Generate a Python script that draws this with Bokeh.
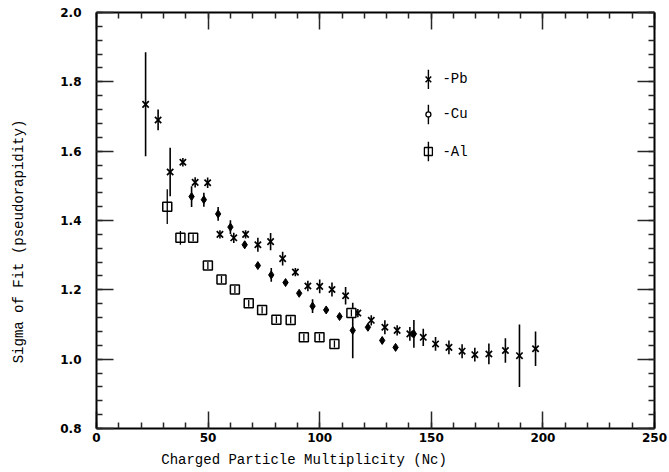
from bokeh.plotting import figure
from bokeh.models import FixedTicker, PrintfTickFormatter, ColumnDataSource, LinearAxis
from bokeh.core.properties import value
from bokeh.embed import file_html
from bokeh.resources import INLINE

# ---- data ----
pb_x = [22.0, 27.6, 33.0, 38.7, 44.2, 49.8, 55.3, 61.5, 66.8, 72.3, 78.0, 83.4, 89.1, 94.7,
        100.0, 105.5, 111.6, 117.1, 123.1, 129.2, 134.7, 140.4, 146.4, 151.9, 157.9, 163.8,
        169.5, 175.8, 183.2, 189.5, 196.7]
pb_y = [1.735, 1.69, 1.54, 1.568, 1.51, 1.509, 1.36, 1.35, 1.36, 1.33, 1.339, 1.29, 1.251, 1.211,
        1.21, 1.201, 1.183, 1.133, 1.112, 1.092, 1.083, 1.073, 1.063, 1.044, 1.034, 1.023,
        1.013, 1.015, 1.025, 1.01, 1.03]
pb_err = [0.15, 0.03, 0.07, 0.012, 0.015, 0.015, 0.012, 0.015, 0.012, 0.02, 0.025, 0.02, 0.012, 0.015,
          0.02, 0.02, 0.025, 0.012, 0.015, 0.02, 0.015, 0.02, 0.025, 0.02, 0.02, 0.02,
          0.02, 0.03, 0.035, 0.09, 0.05]

cu_x = [42.6, 48.1, 54.5, 60.0, 66.4, 72.3, 78.3, 84.7, 90.8, 96.8, 102.9, 108.9, 114.8,
        121.6, 128.0, 134.0, 142.2]
cu_y = [1.469, 1.46, 1.419, 1.381, 1.33, 1.27, 1.243, 1.221, 1.19, 1.153, 1.142, 1.123, 1.083,
        1.092, 1.054, 1.034, 1.073]
cu_err = [0.03, 0.02, 0.02, 0.02, 0.01, 0.005, 0.02, 0.005, 0.005, 0.02, 0.005, 0.005, 0.08,
          0.01, 0.01, 0.005, 0.04]

al_x = [31.7, 37.6, 43.3, 49.9, 56.0, 62.0, 68.2, 74.2, 80.6, 87.0, 92.9, 99.9, 106.6, 114.2]
al_y = [1.44, 1.35, 1.35, 1.27, 1.23, 1.201, 1.161, 1.142, 1.114, 1.113, 1.063, 1.063, 1.044, 1.133]
al_err = [0.05, 0.02, 0.01, 0.01, 0.01, 0.01, 0.01, 0.01, 0.01, 0.01, 0.01, 0.01, 0.01, 0.01]

x_major = [0, 50, 100, 150, 200, 250]
x_minor = list(range(0, 251, 10))
y_major = [0.8, 1.0, 1.2, 1.4, 1.6, 1.8, 2.0]
y_minor = [round(0.8 + 0.04 * i, 2) for i in range(31)]

legend_labels = ["-Pb", "-Cu", "-Al"]
legend_x = 148.7
legend_text_x = 155.0
legend_y = [1.807, 1.706, 1.599]
legend_err = 0.028

NB = "\u00a0"
x_label = "Charged Particle Multiplicity (Nc)" + NB * 17
y_label = "Sigma of Fit (pseudorapidity)" + NB * 5

MONO = "Liberation Mono"
TICKF = "DejaVu Sans"
TICK_COLOR = "#262626"

# ---- figure ----
p = figure(width=669, height=472, x_range=(0, 250), y_range=(0.8, 2.0),
           output_backend="svg", toolbar_location=None,
           min_border_left=96, min_border_right=15, min_border_top=12, min_border_bottom=44)
p.grid.visible = False


def style_axis(ax, ticks, minor, labels=True):
    ax.ticker = FixedTicker(ticks=ticks, minor_ticks=minor)
    ax.axis_line_color = "black"
    ax.axis_line_width = 2
    ax.major_tick_in = 17
    ax.major_tick_out = 0
    ax.minor_tick_in = 6
    ax.minor_tick_out = 0
    ax.major_tick_line_color = TICK_COLOR
    ax.minor_tick_line_color = TICK_COLOR
    ax.major_tick_line_width = 1.5
    ax.minor_tick_line_width = 1.5
    if labels:
        ax.major_label_text_font = TICKF
        ax.major_label_text_font_size = "12px"
        ax.major_label_text_font_style = "bold"
        ax.major_label_text_color = "black"
        ax.axis_label_text_font = MONO
        ax.axis_label_text_font_size = "14px"
        ax.axis_label_text_font_style = "normal"
        ax.axis_label_text_color = "black"
    else:
        ax.major_label_text_font_size = "0px"
        ax.major_label_text_alpha = 0


style_axis(p.xaxis[0], x_major, x_minor)
style_axis(p.yaxis[0], y_major, y_minor)
p.yaxis[0].formatter = PrintfTickFormatter(format="%.1f")
p.xaxis[0].major_label_standoff = 4
p.yaxis[0].major_label_standoff = 15
p.xaxis[0].axis_label = x_label
p.xaxis[0].axis_label_standoff = 7
p.yaxis[0].axis_label = y_label
p.yaxis[0].axis_label_standoff = 30

top = LinearAxis()
style_axis(top, x_major, x_minor, labels=False)
p.add_layout(top, "above")
right = LinearAxis()
style_axis(right, y_major, y_minor, labels=False)
p.add_layout(right, "right")


# ---- error bars and markers ----
def errbars(xs, ys, es, w=1.6):
    src = ColumnDataSource(dict(x=xs, y0=[y - e for y, e in zip(ys, es)],
                                y1=[y + e for y, e in zip(ys, es)]))
    p.segment(x0="x", x1="x", y0="y0", y1="y1", source=src, line_color="black", line_width=w)


errbars(pb_x, pb_y, pb_err)
errbars(cu_x, cu_y, cu_err)

p.scatter(pb_x, pb_y, marker="x", size=9, line_color="black", line_width=1.7)
p.scatter(cu_x, cu_y, marker="diamond", size=8, fill_color="black", line_color="black", line_width=1)
p.scatter(al_x, al_y, marker="square", size=9, fill_color="white", line_color="black", line_width=1.5)
errbars(al_x, al_y, al_err, w=1.3)

# ---- legend drawn inside the plot ----
lx = [legend_x] * 3
errbars(lx, legend_y, [legend_err] * 3, w=1.4)
p.scatter(lx[0:1], legend_y[0:1], marker="x", size=8, line_color="black", line_width=1.5)
p.scatter(lx[1:2], legend_y[1:2], marker="circle", size=5, fill_color="white", line_color="black", line_width=1.3)
p.scatter(lx[2:3], legend_y[2:3], marker="square", size=8, fill_color=None, line_color="black", line_width=1.3)
p.text(x=[legend_text_x] * 3, y=legend_y, text=legend_labels, text_font=value(MONO),
       text_font_size="14px", text_baseline="middle", text_align="left", text_color="black")

open("out.html", "w").write(file_html(p, INLINE))
